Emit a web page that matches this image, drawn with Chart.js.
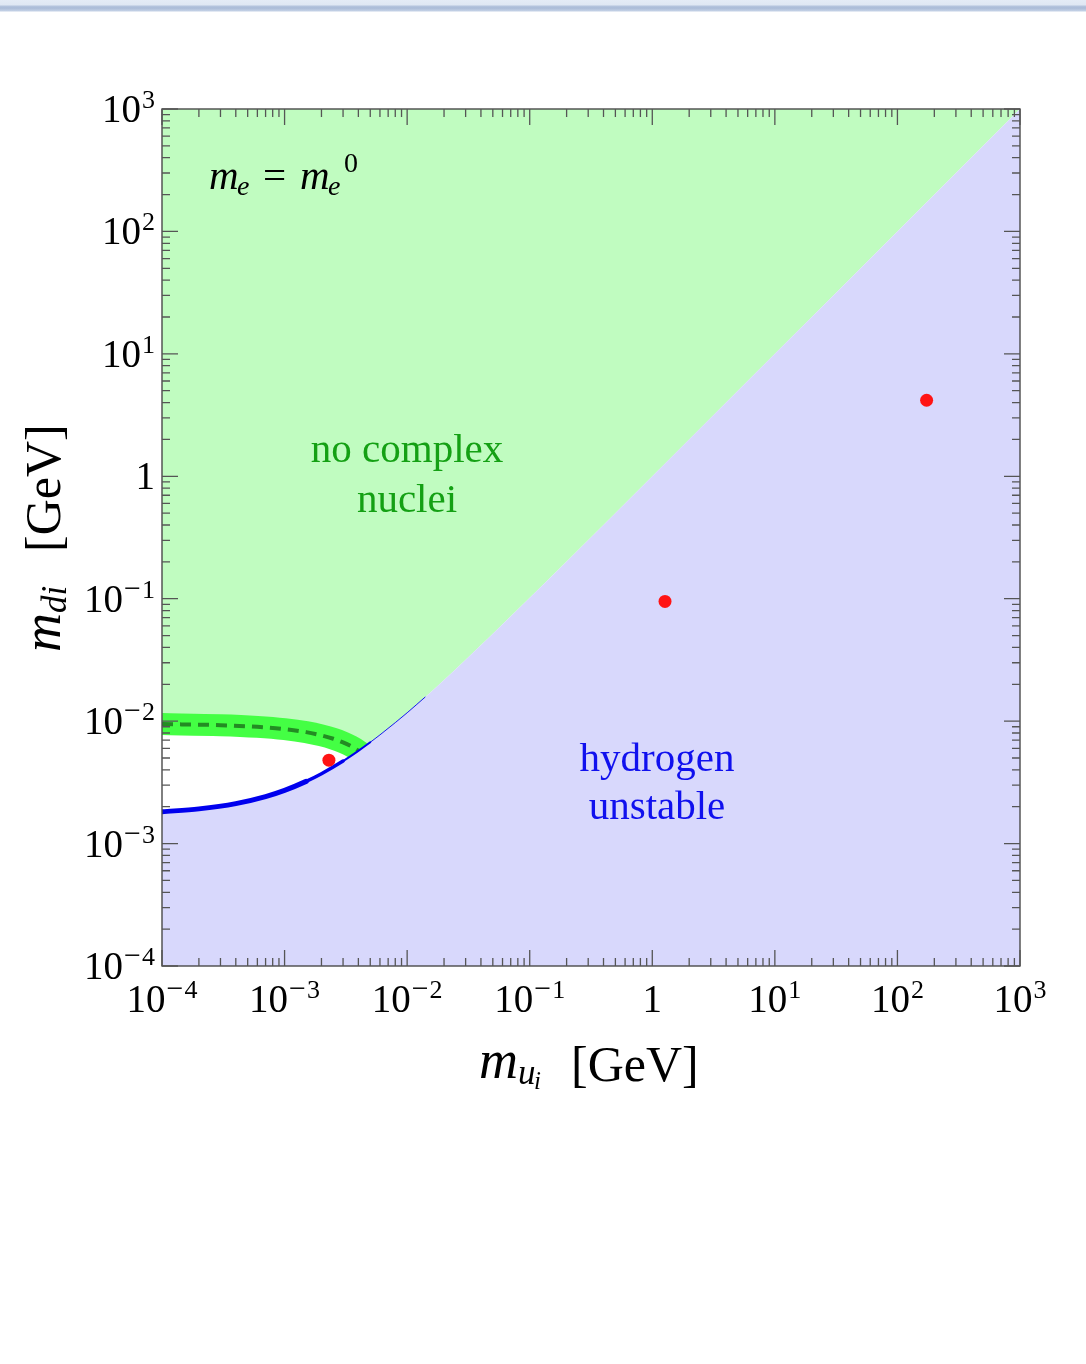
<!DOCTYPE html>
<html>
<head>
<meta charset="utf-8">
<script src="https://cdn.jsdelivr.net/npm/chart.js@4.4.0/dist/chart.umd.min.js"></script>
<style>
  html, body { margin: 0; padding: 0; background: #fff; }
  #wrap { position: relative; width: 1086px; height: 1364px; }
  #strip { position: absolute; left: 0; top: 0; width: 1086px; height: 12px;
    background: linear-gradient(to bottom, #e4ebf6 0px, #dfe7f3 5px, #b6c5de 6px, #aabbd7 8px, #c4d1e6 11px, #ffffff 12px); }
</style>
</head>
<body>
<div id="wrap">
  <canvas id="chart" width="1086" height="1364"></canvas>
  <div id="strip"></div>
</div>
<script>
// axis decades (both axes run 10^-4 .. 10^3)
const tickExponents = [-4, -3, -2, -1, 0, 1, 2, 3];

// boundary between the two regions (m_u, m_d) in GeV
const boundaryMu = [1e-4, 2e-4, 4e-4, 7e-4, 1e-3, 1.5e-3, 2e-3, 3e-3, 4e-3, 5e-3, 6e-3, 8e-3, 1e-2, 1.4e-2, 2e-2, 3e-2, 5e-2, 0.1, 0.2, 1, 10, 100, 1000];
const boundaryMd = [1.82e-3, 1.92e-3, 2.12e-3, 2.42e-3, 2.72e-3, 3.22e-3, 3.72e-3, 4.72e-3, 5.72e-3, 6.72e-3, 7.72e-3, 9.72e-3, 1.17e-2, 1.57e-2, 2.17e-2, 3.17e-2, 5.17e-2, 0.1017, 0.2017, 1.0, 10, 100, 1000];

// dashed curve with its green band
const bandMu = [1e-4, 3e-4, 6e-4, 1e-3, 1.5e-3, 2e-3, 2.5e-3, 3e-3, 3.5e-3, 4e-3];
const bandMd = [9.46e-3, 9.27e-3, 8.98e-3, 8.6e-3, 8.13e-3, 7.65e-3, 7.18e-3, 6.7e-3, 6.23e-3, 5.75e-3];
const bandTailMu = [4.5e-3, 5e-3, 6e-3];
const bandTailMd = [5.27e-3, 4.8e-3, 3.85e-3];

// quark generations (m_u, m_d)
const quarkMu = [2.3e-3, 1.27, 173];
const quarkMd = [4.8e-3, 0.095, 4.18];

const toXY = (xs, ys) => xs.map((x, i) => ({ x, y: ys[i] }));

const boundary = toXY(boundaryMu, boundaryMd);
const band = toXY(bandMu, bandMd);
const bandFull = toXY(bandMu.concat(bandTailMu), bandMd.concat(bandTailMd));
const greenEdge = band.concat(boundary.filter(p => p.x > 4e-3));
const blueLine = boundary.filter(p => p.x <= 1.4e-2);

const SERIF = '"Liberation Serif", "Times New Roman", serif';

function drawPow(ctx, exp, x, y, align) {
  // "10^exp" with a raised exponent, or "1" for exp 0
  ctx.textBaseline = 'alphabetic';
  ctx.textAlign = 'left';
  ctx.fillStyle = '#000';
  const base = exp === 0 ? '1' : '10';
  const digit = exp === 0 ? '' : String(Math.abs(exp));
  const neg = exp < 0;
  ctx.font = '39px ' + SERIF;
  const wb = ctx.measureText(base).width;
  ctx.font = '30px ' + SERIF;
  const wm = neg ? ctx.measureText('\u2212').width + 1 : 0;
  ctx.font = '26px ' + SERIF;
  const wd = digit ? ctx.measureText(digit).width + 1 : 0;
  const w = wb + wm + wd;
  const x0 = align === 'right' ? x - w : x - w / 2;
  ctx.font = '39px ' + SERIF;
  ctx.fillText(base, x0, y);
  if (neg) {
    ctx.font = '30px ' + SERIF;
    ctx.fillText('\u2212', x0 + wb + 1, y - 14);
  }
  if (digit) {
    ctx.font = '26px ' + SERIF;
    ctx.fillText(digit, x0 + wb + wm + 1, y - 14);
  }
}

const framePlugin = {
  id: 'frame',
  afterDatasetsDraw(chart) {
    const { ctx, chartArea: a, scales } = chart;
    const xs = scales.x, ys = scales.y;
    ctx.save();

    // frame
    ctx.strokeStyle = '#4a4a4a';
    ctx.lineWidth = 1.4;
    ctx.strokeRect(a.left, a.top, a.right - a.left, a.bottom - a.top);

    // inward ticks on all four sides
    ctx.lineWidth = 1.3;
    ctx.strokeStyle = '#555';
    ctx.beginPath();
    tickExponents.forEach(e => {
      const mults = e === 3 ? [1] : [1, 2, 3, 4, 5, 6, 7, 8, 9];
      mults.forEach(m => {
        const v = m * Math.pow(10, e);
        const len = m === 1 ? 16 : 8;
        const px = xs.getPixelForValue(v);
        const py = ys.getPixelForValue(v);
        ctx.moveTo(px, a.bottom); ctx.lineTo(px, a.bottom - len);
        ctx.moveTo(px, a.top); ctx.lineTo(px, a.top + len);
        ctx.moveTo(a.left, py); ctx.lineTo(a.left + len, py);
        ctx.moveTo(a.right, py); ctx.lineTo(a.right - len, py);
      });
    });
    ctx.stroke();

    // tick labels
    tickExponents.forEach(e => {
      const v = Math.pow(10, e);
      drawPow(ctx, e, xs.getPixelForValue(v), 1012, 'center');
      drawPow(ctx, e, 155, ys.getPixelForValue(v) + 13, 'right');
    });

    // x title: m_{u_i} [GeV]
    ctx.fillStyle = '#000';
    ctx.textAlign = 'left';
    ctx.font = 'italic 54px ' + SERIF;
    ctx.fillText('m', 479, 1078);
    ctx.font = 'italic 35px ' + SERIF;
    ctx.fillText('u', 518, 1084);
    ctx.font = 'italic 25px ' + SERIF;
    ctx.fillText('i', 534, 1089);
    ctx.font = '50px ' + SERIF;
    ctx.fillText('[GeV]', 571, 1081);

    // y title: m_{di} [GeV], rotated
    ctx.save();
    ctx.translate(60, 652);
    ctx.rotate(-Math.PI / 2);
    ctx.font = 'italic 54px ' + SERIF;
    ctx.fillText('m', 0, 0);
    ctx.font = 'italic 35px ' + SERIF;
    ctx.fillText('di', 39, 6);
    ctx.font = '50px ' + SERIF;
    ctx.fillText('[GeV]', 100, 0);
    ctx.restore();

    // m_e = m_e^0
    ctx.font = 'italic 41px ' + SERIF;
    ctx.fillText('m', 209, 189);
    ctx.fillText('m', 300, 189);
    ctx.font = 'italic 28px ' + SERIF;
    ctx.fillText('e', 237, 195);
    ctx.fillText('e', 328, 195);
    ctx.font = '41px ' + SERIF;
    ctx.fillText('=', 263, 189);
    ctx.font = '28px ' + SERIF;
    ctx.fillText('0', 344, 172);

    // region labels
    ctx.textAlign = 'center';
    ctx.font = '41px ' + SERIF;
    ctx.fillStyle = '#14a014';
    ctx.fillText('no complex', 407, 462);
    ctx.fillText('nuclei', 407, 512);
    ctx.fillStyle = '#1010ee';
    ctx.fillText('hydrogen', 657, 771);
    ctx.fillText('unstable', 657, 819);

    ctx.restore();
  }
};

new Chart(document.getElementById('chart'), {
  type: 'line',
  data: {
    datasets: [
      {
        label: 'no complex nuclei',
        data: greenEdge,
        fill: 'end',
        backgroundColor: '#c0fcc0',
        borderColor: 'rgba(0,0,0,0)',
        borderWidth: 1,
        cubicInterpolationMode: 'monotone',
        order: 6
      },
      {
        label: 'band',
        data: bandFull,
        fill: false,
        borderColor: '#44ff44',
        borderWidth: 22,
        cubicInterpolationMode: 'monotone',
        order: 5
      },
      {
        label: 'hydrogen unstable',
        data: boundary,
        fill: 'start',
        backgroundColor: '#d8d8fc',
        borderColor: 'rgba(0,0,0,0)',
        borderWidth: 1,
        cubicInterpolationMode: 'monotone',
        order: 4
      },
      {
        label: 'dashed',
        data: band,
        fill: false,
        borderColor: '#238c23',
        borderWidth: 4,
        borderDash: [11, 7],
        cubicInterpolationMode: 'monotone',
        order: 3
      },
      {
        label: 'boundary line',
        data: blueLine,
        fill: false,
        borderColor: '#0000ee',
        borderWidth: 5,
        borderCapStyle: 'round',
        cubicInterpolationMode: 'monotone',
        segment: {
          borderWidth: c => c.p0.parsed.x < 1.5e-3 ? 5 : c.p0.parsed.x < 3e-3 ? 3.5 : c.p0.parsed.x < 5e-3 ? 2 : 0.9
        },
        order: 2
      },
      {
        type: 'scatter',
        label: 'quarks',
        data: toXY(quarkMu, quarkMd),
        backgroundColor: '#ff1414',
        borderWidth: 0,
        pointRadius: 6.5,
        order: 1
      }
    ]
  },
  options: {
    responsive: false,
    animation: false,
    layout: { padding: { left: 162, top: 109, right: 66, bottom: 398 } },
    elements: { point: { radius: 0 } },
    plugins: { legend: { display: false }, tooltip: { enabled: false } },
    scales: {
      x: { type: 'logarithmic', min: 1e-4, max: 1e3, display: false },
      y: { type: 'logarithmic', min: 1e-4, max: 1e3, display: false }
    }
  },
  plugins: [framePlugin]
});
</script>
</body>
</html>
